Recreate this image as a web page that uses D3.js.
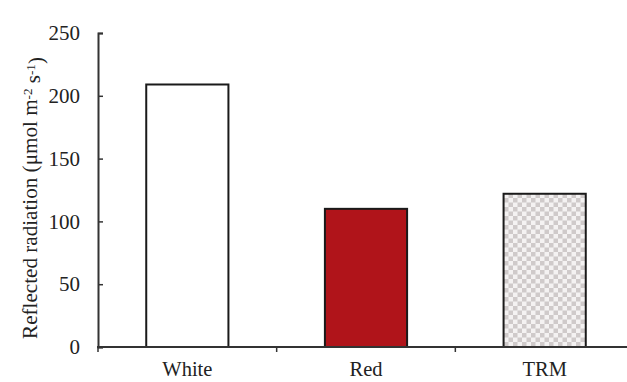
<!DOCTYPE html>
<html>
<head>
<meta charset="utf-8">
<script src="https://cdn.jsdelivr.net/npm/d3@7/dist/d3.min.js"></script>
<style>
  html, body { margin: 0; padding: 0; background: #fff; }
  svg { display: block; }
  text { font-family: "Liberation Serif", "Times New Roman", serif; fill: #222; }
</style>
</head>
<body>
<svg id="chart" width="627" height="382"></svg>
<script>
// Reflected radiation by mulch treatment
const categories = ["White", "Red", "TRM"];
const values = [209, 110, 122];
const yTicks = [0, 50, 100, 150, 200, 250];

const svg = d3.select("#chart");

// Checkered fill used for the TRM bar
const defs = svg.append("defs");
const pat = defs.append("pattern")
  .attr("id", "checker")
  .attr("patternUnits", "userSpaceOnUse")
  .attr("width", 9).attr("height", 9);
pat.append("rect").attr("width", 9).attr("height", 9).attr("fill", "#f4f2f2");
pat.append("rect").attr("x", 0).attr("y", 0).attr("width", 4.5).attr("height", 4.5).attr("fill", "#cfcaca");
pat.append("rect").attr("x", 4.5).attr("y", 4.5).attr("width", 4.5).attr("height", 4.5).attr("fill", "#cfcaca");

const x = d3.scaleBand()
  .domain(categories)
  .range([98, 634])
  .paddingInner(0.54)
  .paddingOuter(0.27);

const y = d3.scaleLinear()
  .domain([0, 250])
  .range([347, 33]);

const fills = ["#ffffff", "#b0141a", "url(#checker)"];

// Bars
svg.append("g")
  .selectAll("rect")
  .data(categories)
  .join("rect")
  .attr("x", d => x(d))
  .attr("y", (d, i) => y(values[i]))
  .attr("width", x.bandwidth())
  .attr("height", (d, i) => y(0) - y(values[i]))
  .attr("fill", (d, i) => fills[i])
  .attr("stroke", "#1a1a1a")
  .attr("stroke-width", 2);

// Y axis: ticks pointing into the plot
const yAxis = svg.append("g")
  .attr("transform", "translate(98,0)")
  .call(d3.axisLeft(y).tickValues(yTicks).tickSize(-5).tickPadding(18));
yAxis.select(".domain").attr("stroke", "#333").attr("stroke-width", 2);
yAxis.selectAll(".tick line").attr("stroke", "#333").attr("stroke-width", 1.5);
yAxis.selectAll(".tick text")
  .attr("font-size", 21)
  .attr("font-family", "Liberation Serif, serif")
  .attr("fill", "#222");

// X axis: tick marks on category boundaries
const boundaries = d3.range(categories.length + 1).map(i => 98 + i * x.step());
const xAxisG = svg.append("g");
xAxisG.append("line")
  .attr("x1", 97).attr("x2", 634)
  .attr("y1", y(0)).attr("y2", y(0))
  .attr("stroke", "#333").attr("stroke-width", 2);
xAxisG.selectAll("line.b")
  .data(boundaries)
  .join("line")
  .attr("class", "b")
  .attr("x1", d => d).attr("x2", d => d)
  .attr("y1", y(0)).attr("y2", y(0) + 5)
  .attr("stroke", "#333").attr("stroke-width", 1.5);
xAxisG.selectAll("text")
  .data(categories)
  .join("text")
  .attr("x", d => x(d) + x.bandwidth() / 2)
  .attr("y", 376)
  .attr("text-anchor", "middle")
  .attr("font-size", 20.5)
  .text(d => d);

// Y axis title with superscripts, sized to span the axis height
const baseSize = 18;
const title = svg.append("text")
  .attr("transform", "translate(37,198) rotate(-90)")
  .attr("text-anchor", "middle")
  .attr("font-size", baseSize);
title.append("tspan").text("Reflected radiation (μmol m");
title.append("tspan").attr("class", "sup").attr("dy", "-0.4em").text("-2");
title.append("tspan").attr("class", "base").attr("dy", "0.4em").text(" s");
title.append("tspan").attr("class", "sup").attr("dy", "-0.4em").text("-1");
title.append("tspan").attr("class", "base").attr("dy", "0.4em").text(")");
title.selectAll("tspan.sup").attr("font-size", "0.62em");
title.selectAll("tspan.base").attr("font-size", "1em");
const targetLen = 282;
const measured = title.node().getComputedTextLength();
if (measured > 0) title.attr("font-size", baseSize * targetLen / measured);
</script>
</body>
</html>
